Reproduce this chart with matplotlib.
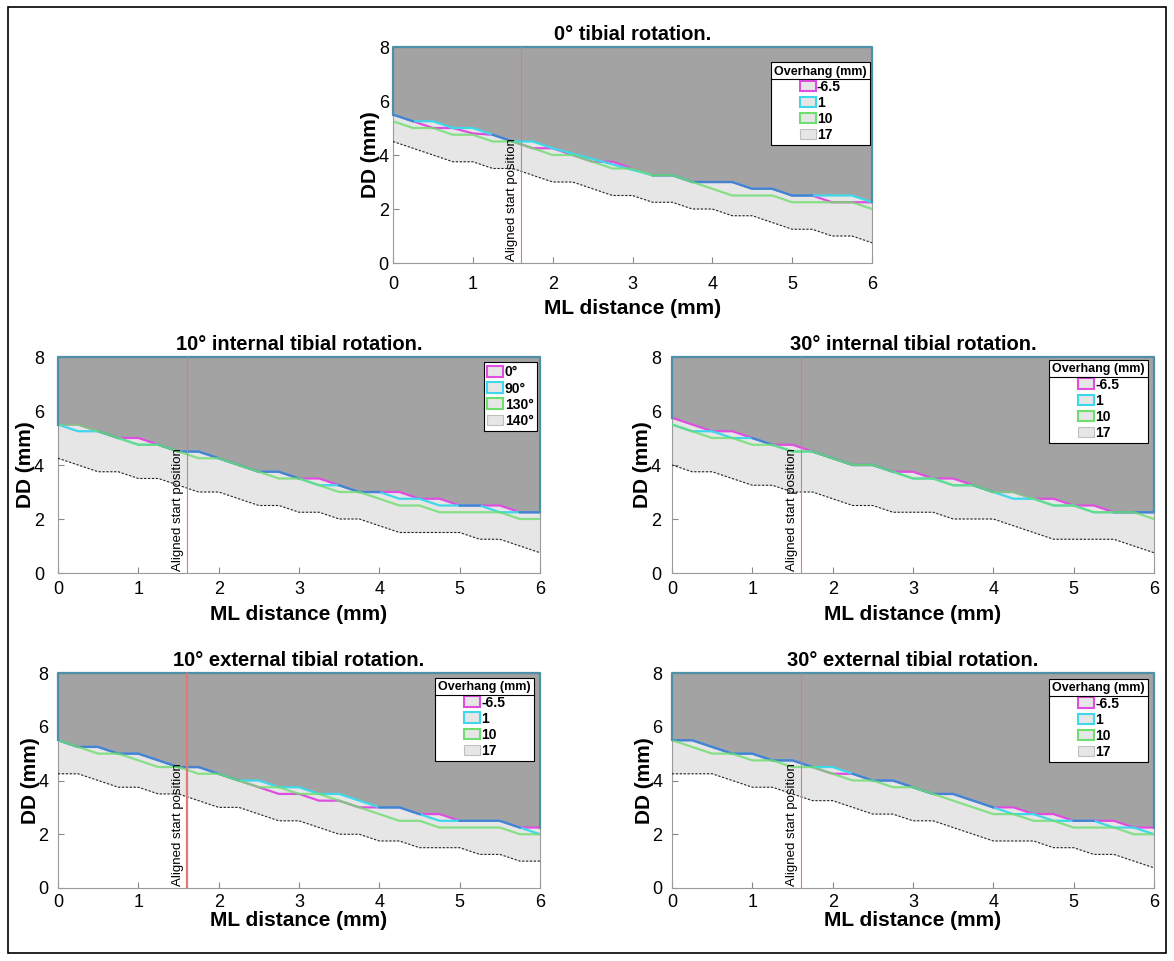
import numpy as np
import matplotlib
matplotlib.use('Agg')
import matplotlib.pyplot as plt
from matplotlib.patches import Patch, Rectangle
from matplotlib.lines import Line2D
from matplotlib.transforms import IdentityTransform

plt.rcParams['font.family'] = ['Liberation Sans', 'DejaVu Sans']

# ML sample positions (mm)
ml_dist = [0, 0.25, 0.5, 0.75, 1, 1.25, 1.5, 1.75, 2, 2.25, 2.5, 2.75, 3,
           3.25, 3.5, 3.75, 4, 4.25, 4.5, 4.75, 5, 5.25, 5.5, 5.75, 6]

# 0 deg tibial rotation
neutral_m65 = [5.5, 5.25, 5.0, 5.0, 4.8, 4.75, 4.5, 4.25, 4.25, 4.0, 3.75, 3.75, 3.5,
               3.25, 3.25, 3.0, 3.0, 3.0, 2.75, 2.75, 2.5, 2.5, 2.25, 2.25, 2.25]
neutral_1 = [5.5, 5.25, 5.25, 5.0, 5.0, 4.75, 4.5, 4.5, 4.25, 4.05, 3.85, 3.65, 3.45,
             3.25, 3.25, 3.0, 3.0, 3.0, 2.75, 2.75, 2.5, 2.5, 2.5, 2.5, 2.25]
neutral_10 = [5.25, 5.0, 5.0, 4.75, 4.75, 4.5, 4.5, 4.25, 4.0, 4.0, 3.75, 3.5, 3.5,
              3.25, 3.25, 3.0, 2.75, 2.5, 2.5, 2.5, 2.25, 2.25, 2.25, 2.25, 2.0]
neutral_17 = [4.5, 4.25, 4.0, 3.75, 3.75, 3.5, 3.5, 3.25, 3.0, 3.0, 2.75, 2.5, 2.5,
              2.25, 2.25, 2.0, 2.0, 1.75, 1.75, 1.5, 1.25, 1.25, 1.0, 1.0, 0.75]

# 10 deg internal
int10_0 = [5.5, 5.5, 5.25, 5.0, 5.0, 4.75, 4.5, 4.5, 4.25, 4.0, 3.75, 3.75, 3.5,
           3.5, 3.25, 3.0, 3.0, 3.0, 2.75, 2.75, 2.5, 2.5, 2.5, 2.25, 2.25]
int10_90 = [5.5, 5.25, 5.25, 5.0, 4.75, 4.75, 4.5, 4.5, 4.25, 4.0, 3.75, 3.75, 3.5,
            3.25, 3.25, 3.0, 3.0, 2.75, 2.75, 2.5, 2.5, 2.5, 2.25, 2.25, 2.25]
int10_130 = [5.5, 5.5, 5.25, 5.0, 4.75, 4.75, 4.5, 4.25, 4.25, 4.0, 3.75, 3.5, 3.5,
             3.25, 3.0, 3.0, 2.75, 2.5, 2.5, 2.25, 2.25, 2.25, 2.25, 2.0, 2.0]
int10_140 = [4.25, 4.0, 3.75, 3.75, 3.5, 3.5, 3.25, 3.0, 3.0, 2.75, 2.5, 2.5, 2.25,
             2.25, 2.0, 2.0, 1.75, 1.5, 1.5, 1.5, 1.5, 1.25, 1.25, 1.0, 0.75]

# 30 deg internal
int30_m65 = [5.75, 5.5, 5.25, 5.25, 5.0, 4.75, 4.75, 4.5, 4.25, 4.0, 4.0, 3.75, 3.75,
             3.5, 3.5, 3.25, 3.0, 3.0, 2.75, 2.75, 2.5, 2.5, 2.25, 2.25, 2.25]
int30_1 = [5.5, 5.25, 5.25, 5.0, 5.0, 4.75, 4.5, 4.5, 4.25, 4.0, 4.0, 3.75, 3.5,
           3.5, 3.25, 3.25, 3.0, 2.75, 2.75, 2.5, 2.5, 2.25, 2.25, 2.25, 2.25]
int30_10 = [5.5, 5.25, 5.0, 5.0, 4.75, 4.75, 4.5, 4.5, 4.25, 4.0, 4.0, 3.75, 3.5,
            3.5, 3.25, 3.25, 3.0, 3.0, 2.75, 2.5, 2.5, 2.25, 2.25, 2.25, 2.0]
int30_17 = [4.0, 3.75, 3.75, 3.5, 3.25, 3.25, 3.0, 3.0, 2.75, 2.5, 2.5, 2.25, 2.25,
            2.25, 2.0, 2.0, 2.0, 1.75, 1.5, 1.25, 1.25, 1.25, 1.25, 1.0, 0.75]

# 10 deg external
ext10_m65 = [5.5, 5.25, 5.25, 5.0, 5.0, 4.75, 4.5, 4.5, 4.25, 4.0, 3.75, 3.5, 3.5,
             3.25, 3.25, 3.0, 3.0, 3.0, 2.75, 2.75, 2.5, 2.5, 2.5, 2.25, 2.25]
ext10_1 = [5.5, 5.25, 5.25, 5.0, 5.0, 4.75, 4.5, 4.5, 4.25, 4.0, 4.0, 3.75, 3.75,
           3.5, 3.5, 3.25, 3.0, 3.0, 2.75, 2.5, 2.5, 2.5, 2.5, 2.25, 2.0]
ext10_10 = [5.5, 5.25, 5.0, 5.0, 4.75, 4.5, 4.5, 4.25, 4.25, 4.0, 3.75, 3.75, 3.5,
            3.5, 3.25, 3.0, 2.75, 2.5, 2.5, 2.25, 2.25, 2.25, 2.25, 2.0, 2.0]
ext10_17 = [4.25, 4.25, 4.0, 3.75, 3.75, 3.5, 3.5, 3.25, 3.0, 3.0, 2.75, 2.5, 2.5,
            2.25, 2.0, 2.0, 1.75, 1.75, 1.5, 1.5, 1.5, 1.25, 1.25, 1.0, 1.0]

# 30 deg external
ext30_m65 = [5.5, 5.5, 5.25, 5.0, 5.0, 4.75, 4.75, 4.5, 4.25, 4.25, 4.0, 4.0, 3.75,
             3.5, 3.5, 3.25, 3.0, 3.0, 2.75, 2.75, 2.5, 2.5, 2.5, 2.25, 2.25]
ext30_1 = [5.5, 5.5, 5.25, 5.0, 5.0, 4.75, 4.75, 4.5, 4.5, 4.25, 4.0, 4.0, 3.75,
           3.5, 3.5, 3.25, 3.0, 2.75, 2.75, 2.5, 2.5, 2.5, 2.25, 2.25, 2.0]
ext30_10 = [5.5, 5.25, 5.0, 5.0, 4.75, 4.75, 4.5, 4.5, 4.25, 4.0, 4.0, 3.75, 3.75,
            3.5, 3.25, 3.0, 2.75, 2.75, 2.5, 2.5, 2.25, 2.25, 2.25, 2.0, 2.0]
ext30_17 = [4.25, 4.25, 4.25, 4.0, 3.75, 3.75, 3.5, 3.25, 3.25, 3.0, 2.75, 2.75, 2.5,
            2.5, 2.25, 2.0, 1.75, 1.75, 1.75, 1.5, 1.5, 1.25, 1.25, 1.0, 0.75]

overhang_labels = ['-6.5', '1', '10', '17']
angle_labels = ['0°', '90°', '130°', '140°']
aligned_start = 1.6

line_colors = ['#e04ee0', '#3ed8ea', '#6ede6e', '#222222']
blue_overlap = '#4682cf'
light_gray = '#e6e6e6'
dark_gray = '#a3a3a3'
frame_col = '#4f8fa8'

W, H = 1174, 961
fig = plt.figure(figsize=(W / 100, H / 100), dpi=100)


def add_axes_px(left, right, top, bottom):
    return fig.add_axes([left / W, 1 - bottom / H, (right - left) / W, (bottom - top) / H])


def draw_panel(ax, series, title, labels, leg_title, anchor, pads, red_lw=0.8):
    x = np.array(ml_dist, dtype=float)
    ys = [np.array(s, dtype=float) for s in series]
    top = np.max(ys[:3], axis=0)

    # shaded areas
    ax.fill_between(x, ys[3], 8, color=light_gray, lw=0, zorder=1)
    ax.fill_between(x, top, 8, color=dark_gray, lw=0, zorder=2)

    # boundary lines
    ax.plot(x, ys[3], color=line_colors[3], lw=0.8, ls=(0, (2, 1.5)), zorder=3)
    ax.plot(x, ys[0], color=line_colors[0], lw=1.6, zorder=3)
    ax.plot(x, ys[1], color=line_colors[1], lw=1.6, zorder=3)
    same = np.where(ys[0] == ys[1], ys[0], np.nan)
    ax.plot(x, same, color=blue_overlap, lw=1.6, zorder=3)
    ax.plot(x, ys[2], color=line_colors[2], lw=1.6, alpha=0.8, zorder=3)

    # closing edges of the areas
    ax.plot([0, 0, 6, 6], [top[0], 8, 8, top[-1]], color=frame_col, lw=1.6,
            zorder=4, clip_on=False)

    ax.axvline(aligned_start, color='#e07a7a', lw=red_lw, zorder=5)
    ax.text(aligned_start - 0.03, 0.08, 'Aligned start position', rotation=90,
            ha='right', va='bottom', fontsize=9.5, zorder=6)

    xpad, xlabpad, ypad = pads
    ax.set_xlim(0, 6)
    ax.set_ylim(0, 8)
    ax.set_xticks(range(0, 7))
    ax.set_yticks([0, 2, 4, 6, 8])
    ax.tick_params(direction='in', length=4, color='#888888', labelsize=13)
    ax.tick_params(axis='x', pad=xpad)
    ax.tick_params(axis='y', pad=ypad)
    for sp in ax.spines.values():
        sp.set_color('#9a9a9a')
        sp.set_linewidth(0.8)
    ax.set_xlabel('ML distance (mm)', fontsize=15, fontweight='bold', labelpad=xlabpad)
    ax.set_ylabel('DD (mm)', fontsize=15, fontweight='bold', labelpad=-1)
    ax.set_title(title, fontsize=14.5, fontweight='bold', pad=5)

    handles = [Patch(facecolor=light_gray, edgecolor=c, lw=1.5) for c in line_colors[:3]]
    handles.append(Patch(facecolor=light_gray, edgecolor='#c0c0c0', lw=0.8))
    leg = ax.legend(handles, labels, title=leg_title, loc='upper right',
                    bbox_to_anchor=anchor, borderaxespad=0, fancybox=False,
                    edgecolor='black', framealpha=1, prop={'weight': 'bold', 'size': 10},
                    title_fontproperties={'weight': 'bold', 'size': 9},
                    handlelength=1.15, handleheight=0.8, handletextpad=0.1,
                    labelspacing=0.15, borderpad=0.25)
    leg.get_frame().set_linewidth(0.8)
    leg.set_zorder(10)
    return leg


panels = [
    ((393, 872, 47, 263), [neutral_m65, neutral_1, neutral_10, neutral_17],
     '0° tibial rotation.', overhang_labels, 'Overhang (mm)', (0.996, 0.93), (9.5, 4, 3), 0.8),
    ((58, 540, 357, 573), [int10_0, int10_90, int10_130, int10_140],
     '10° internal tibial rotation.', angle_labels, None, (0.994, 0.977), (6, 4.5, 10), 0.8),
    ((672, 1154, 357, 573), [int30_m65, int30_1, int30_10, int30_17],
     '30° internal tibial rotation.', overhang_labels, 'Overhang (mm)', (0.988, 0.986), (6, 4.5, 8), 0.8),
    ((58, 540, 673, 888), [ext10_m65, ext10_1, ext10_10, ext10_17],
     '10° external tibial rotation.', overhang_labels, 'Overhang (mm)', (0.988, 0.977), (4.5, 0, 7), 1.6),
    ((672, 1154, 673, 888), [ext30_m65, ext30_1, ext30_10, ext30_17],
     '30° external tibial rotation.', overhang_labels, 'Overhang (mm)', (0.988, 0.972), (4.5, 0, 7), 0.8),
]

legends = []
for box, series, title, labels, lt, anchor, pads, rlw in panels:
    ax = add_axes_px(*box)
    leg = draw_panel(ax, series, title, labels, lt, anchor, pads, rlw)
    if lt:
        legends.append(leg)

# separator line under the legend titles (MATLAB style)
fig.canvas.draw()
renderer = fig.canvas.get_renderer()
for leg in legends:
    fb = leg.get_frame().get_window_extent(renderer)
    tb = leg.get_title().get_window_extent(renderer)
    yline = tb.y0 - 1.5
    fig.add_artist(Line2D([fb.x0, fb.x1], [yline, yline], transform=IdentityTransform(),
                          color='black', lw=0.8, zorder=20))

# outer border
fig.patches.append(Rectangle((8 / W, 1 - 953 / H), 1158 / W, 946 / H, transform=fig.transFigure,
                             fill=False, edgecolor='black', lw=1.2))

fig.savefig('out.png', dpi=100)
